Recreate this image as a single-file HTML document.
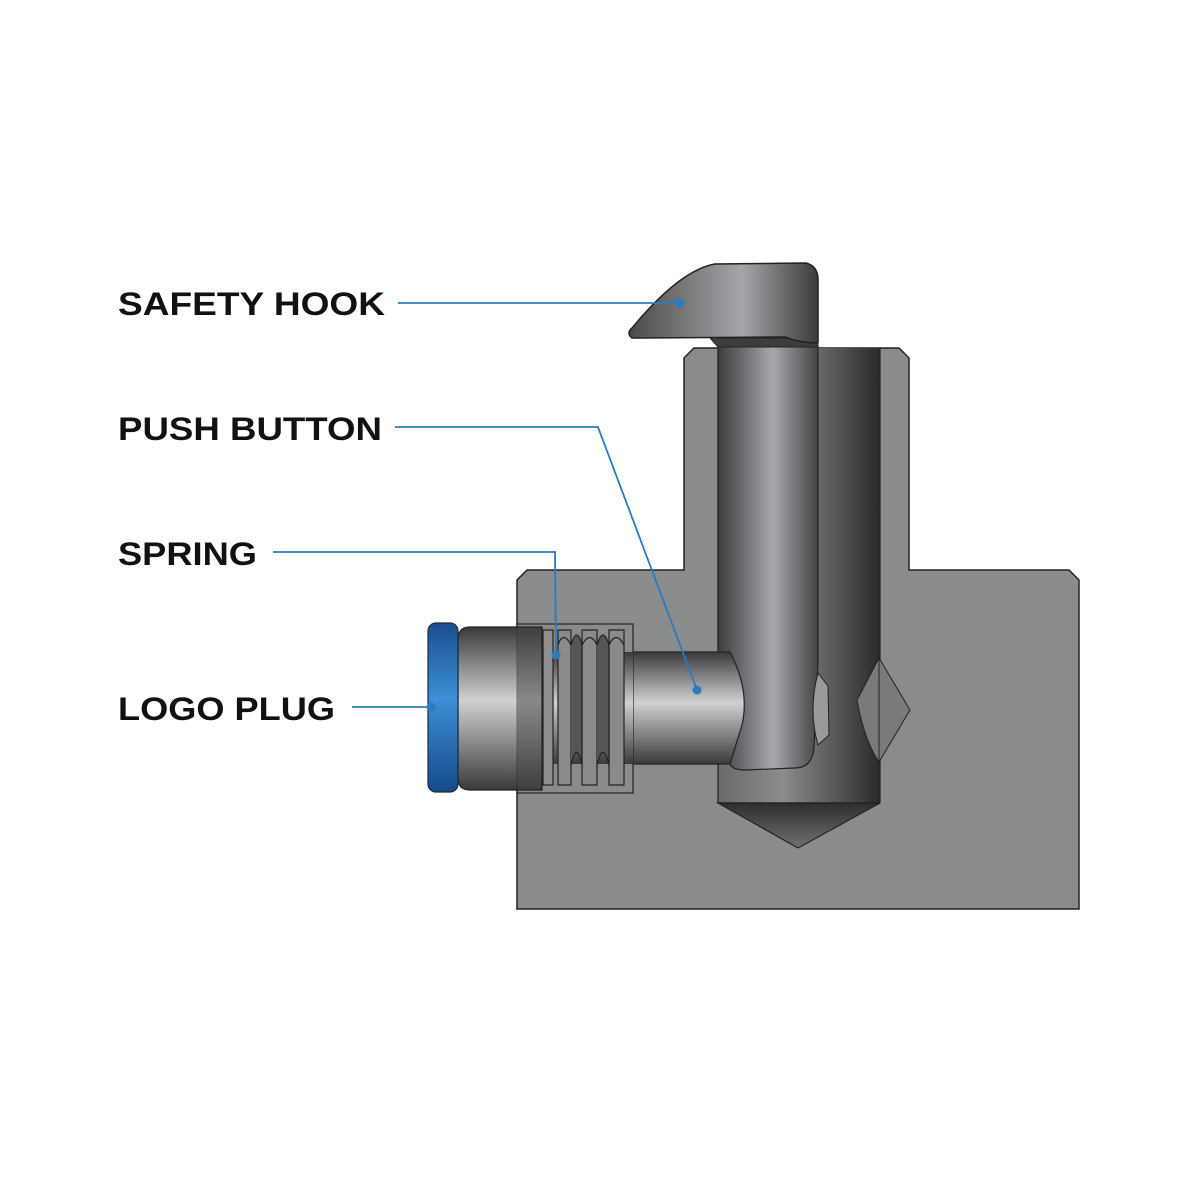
<!DOCTYPE html>
<html><head><style>html,body{margin:0;padding:0;background:#fff}svg{display:block}</style></head>
<body>
<svg width="1200" height="1200" viewBox="0 0 1200 1200" xmlns="http://www.w3.org/2000/svg">
<defs>
<linearGradient id="vh" x1="0" x2="1" y1="0" y2="0">
<stop offset="0" stop-color="#3c3c3e"/><stop offset="0.55" stop-color="#a8a9ad"/><stop offset="1" stop-color="#444446"/></linearGradient>
<linearGradient id="vd" x1="0" x2="1" y1="0" y2="0">
<stop offset="0" stop-color="#6a6a6c"/><stop offset="0.4" stop-color="#8c8c8e"/><stop offset="1" stop-color="#2a2a2c"/></linearGradient>
<linearGradient id="hz" x1="0" x2="0" y1="0" y2="1">
<stop offset="0" stop-color="#3a3a3c"/><stop offset="0.45" stop-color="#d0d1d3"/><stop offset="1" stop-color="#3a3a3c"/></linearGradient>
<linearGradient id="bl" x1="0" x2="0" y1="0" y2="1">
<stop offset="0" stop-color="#1a4f8e"/><stop offset="0.45" stop-color="#3d8fd6"/><stop offset="1" stop-color="#154a88"/></linearGradient>
<linearGradient id="hk" x1="0" x2="1" y1="0" y2="0">
<stop offset="0" stop-color="#4a4a4c"/><stop offset="0.6" stop-color="#a5a6a9"/><stop offset="1" stop-color="#3a3a3c"/></linearGradient>
<linearGradient id="cn" x1="0" x2="0" y1="0" y2="1">
<stop offset="0" stop-color="#2e2e30"/><stop offset="1" stop-color="#707072"/></linearGradient>
</defs>
<!-- body -->
<path d="M517,580 L527,570 L684,570 L684,358 L694,348 L899,348 L909,358 L909,570 L1069,570 L1079,580 L1079,909 L517,909 Z" fill="#8a8b8b" stroke="#222" stroke-width="1.5"/>
<!-- bore -->
<rect x="718" y="348" width="162" height="455" fill="url(#vd)"/>
<path d="M718,803 L880,803 L798,848 Z" fill="url(#cn)" stroke="#222" stroke-width="1.2"/>
<line x1="718" y1="803" x2="880" y2="803" stroke="#222" stroke-width="1.2"/>
<line x1="718" y1="348" x2="718" y2="803" stroke="#222" stroke-width="1.2"/>
<line x1="880" y1="348" x2="880" y2="803" stroke="#222" stroke-width="1.2"/>
<!-- pin -->
<path d="M718,345 L818,345 L818,662 L814,748 Q812,768 795,768 L745,770 Q729,770 729,760 L729,700 L718,660 Z" fill="url(#vh)" stroke="#222" stroke-width="1.2"/>
<path d="M818,673 L828,686 L829,735 L818,745 Q808,710 818,673 Z" fill="#9a9a9c" stroke="#222" stroke-width="1"/>
<path d="M879,658 L910,710 L879,762 Q864,740 857,700 Z" fill="#7a7a7c" stroke="#222" stroke-width="1"/>
<line x1="879" y1="658" x2="879" y2="762" stroke="#222"/>
<!-- hook -->
<path d="M710,338 L815,338 L818,347 L718,347 Z" fill="#3d3d3f" stroke="#222" stroke-width="1"/>
<path d="M632,338 Q626,333 632,328 Q680,270 715,264 L806,263 Q818,266 818,280 L818,343 Q800,343 785,337 L640,338 Z" fill="url(#hk)" stroke="#222" stroke-width="1.5"/>
<!-- push button -->
<path d="M600,652 L730,652 Q750,690 742,725 L730,764 L600,764 Z" fill="url(#hz)" stroke="#222" stroke-width="1.2"/>
<!-- spring housing -->
<rect x="517" y="624" width="116" height="169" fill="#8a8b8b" stroke="#222" stroke-width="1.2"/>
<rect x="543" y="652" width="90" height="112" fill="url(#hz)"/>
<g fill="none" stroke="#222" stroke-width="1.2">
<rect x="543" y="630" width="10" height="155" fill="#8f8f90"/>
<path d="M558,630 L571,630 L571,785 L558,785 Z" fill="#8a8a8b"/>
<path d="M582,630 L597,630 L597,785 L582,785 Z" fill="#8a8a8b"/>
<path d="M609,630 L624,630 L624,785 L609,785 Z" fill="#8a8a8b"/>
<path d="M571,645 Q577,625 582,645 L582,765 Q577,740 571,765" fill="#555"/>
<path d="M597,645 Q603,625 609,645 L609,765 Q603,740 597,765" fill="#555"/>
<path d="M558,645 Q563,630 571,645 M582,645 Q590,630 597,645 M609,645 Q616,630 624,645"/>
</g>
<!-- head -->
<path d="M470,627 L542,627 L542,790 L470,790 Q458,790 458,778 L458,640 Q458,627 470,627 Z" fill="url(#hz)" stroke="#222" stroke-width="1.2"/>
<path d="M517,627 L538,627 Q542,627 542,632 L542,786 Q542,790 538,790 L517,790 Z" fill="#444" opacity="0.5" stroke="#222"/>
<rect x="428" y="623" width="30" height="169" rx="8" fill="url(#bl)" stroke="#1a2a40" stroke-width="1.2"/>
<!-- leaders -->
<g stroke="#2b7bbf" stroke-width="1.8" fill="none">
<path d="M398,303 L680,303"/>
<path d="M395,427 L598,427 L697,690"/>
<path d="M273,552 L555,552 L556,655"/>
<path d="M352,707 L432,707"/>
</g>
<g fill="#2b7bbf"><circle cx="680" cy="303" r="4.5"/><circle cx="697" cy="690" r="4.5"/><circle cx="556" cy="655" r="4.5"/><circle cx="431" cy="707" r="4.5"/></g>
<g font-family="Liberation Sans, sans-serif" font-weight="bold" font-size="32" fill="#111">
<text x="118" y="315" textLength="267" lengthAdjust="spacingAndGlyphs">SAFETY HOOK</text>
<text x="118" y="440" textLength="264" lengthAdjust="spacingAndGlyphs">PUSH BUTTON</text>
<text x="118" y="565" textLength="139" lengthAdjust="spacingAndGlyphs">SPRING</text>
<text x="118" y="720" textLength="217" lengthAdjust="spacingAndGlyphs">LOGO PLUG</text>
</g>
</svg>
</body></html>
